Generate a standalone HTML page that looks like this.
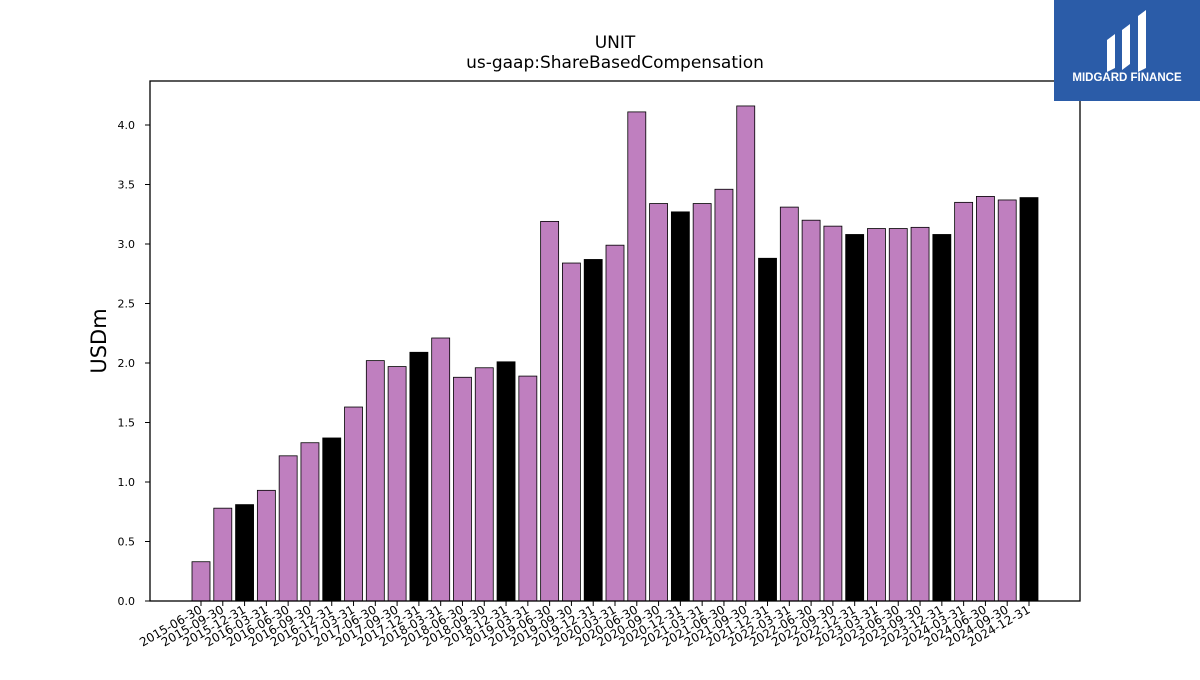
<!DOCTYPE html>
<html><head><meta charset="utf-8"><style>
body{margin:0;background:#fff;width:1200px;height:675px;overflow:hidden;font-family:"Liberation Sans","DejaVu Sans",sans-serif}
</style></head><body>
<svg id="chart" width="1200" height="675" xmlns="http://www.w3.org/2000/svg">
<rect width="1200" height="675" fill="#fff"/>
<text x="615" y="48" text-anchor="middle" font-size="17" font-family="DejaVu Sans, sans-serif">UNIT</text>
<text x="615" y="68" text-anchor="middle" font-size="17" font-family="DejaVu Sans, sans-serif">us-gaap:ShareBasedCompensation</text>
<text transform="translate(106,341) rotate(-90)" text-anchor="middle" font-size="21" font-family="DejaVu Sans, sans-serif">USDm</text>
<g id="bars"></g><g id="yticks"></g><g id="xticks"></g>
<rect x="150" y="81" width="930" height="520" fill="none" stroke="#000" stroke-width="1.3"/>
<g>
<rect x="1054" y="0" width="146" height="101" fill="#2b5ca8"/>
<path d="M1107 40 l8 -6 v34 l-8 4z M1122 30 l8 -6 v40 l-8 6z M1138 16 l8 -6 v58 l-8 4z" fill="#fff"/>
<text x="1127" y="81" text-anchor="middle" font-size="11.5" font-weight="bold" fill="#fff">MIDGARD FINANCE</text>
</g>
</svg>
<script>
const categories=["2015-06-30","2015-09-30","2015-12-31","2016-03-31","2016-06-30","2016-09-30","2016-12-31","2017-03-31","2017-06-30","2017-09-30","2017-12-31","2018-03-31","2018-06-30","2018-09-30","2018-12-31","2019-03-31","2019-06-30","2019-09-30","2019-12-31","2020-03-31","2020-06-30","2020-09-30","2020-12-31","2021-03-31","2021-06-30","2021-09-30","2021-12-31","2022-03-31","2022-06-30","2022-09-30","2022-12-31","2023-03-31","2023-06-30","2023-09-30","2023-12-31","2024-03-31","2024-06-30","2024-09-30","2024-12-31"];
const values=[0.33,0.78,0.81,0.93,1.22,1.33,1.37,1.63,2.02,1.97,2.09,2.21,1.88,1.96,2.01,1.89,3.19,2.84,2.87,2.99,4.11,3.34,3.27,3.34,3.46,4.16,2.88,3.31,3.20,3.15,3.08,3.13,3.13,3.14,3.08,3.35,3.40,3.37,3.39];
const yTicks=[0,0.5,1.0,1.5,2.0,2.5,3.0,3.5,4.0];
const NS="http://www.w3.org/2000/svg";
const y=v=>601-v*119;
const x=i=>201+i*(1029-201)/(categories.length-1);
const bw=18;
const bars=document.getElementById('bars'),yt=document.getElementById('yticks'),xt=document.getElementById('xticks');
function mk(t,a,p){const e=document.createElementNS(NS,t);for(const k in a)e.setAttribute(k,a[k]);p.appendChild(e);return e;}
categories.forEach((c,i)=>{
 const black=c.endsWith("12-31");
 const r=mk('rect',{x:x(i)-bw/2,y:y(values[i]),width:bw,height:values[i]*119,fill:black?'#000':'#bf7fbf',stroke:'#000','stroke-width':0.8},bars);
 
 
 const tk=mk('line',{x1:x(i),x2:x(i),y1:601,y2:606,stroke:'#000'},xt);
 
 
 const t=mk('text',{x:x(i)+2,y:612,'text-anchor':'end','font-size':12,'font-family':'DejaVu Sans, sans-serif',transform:`rotate(-30 ${x(i)+2} 612)`},xt);
 t.textContent=c;
 
 
});
yTicks.forEach(v=>{
 const tk=mk('line',{x1:145,x2:150,y1:y(v),y2:y(v),stroke:'#000'},yt);
 
 
 const t=mk('text',{x:135,y:y(v)+4,'text-anchor':'end','font-size':11,'font-family':'DejaVu Sans, sans-serif'},yt);
 t.textContent=v.toFixed(1);
 
 
});
</script>
</body></html>
